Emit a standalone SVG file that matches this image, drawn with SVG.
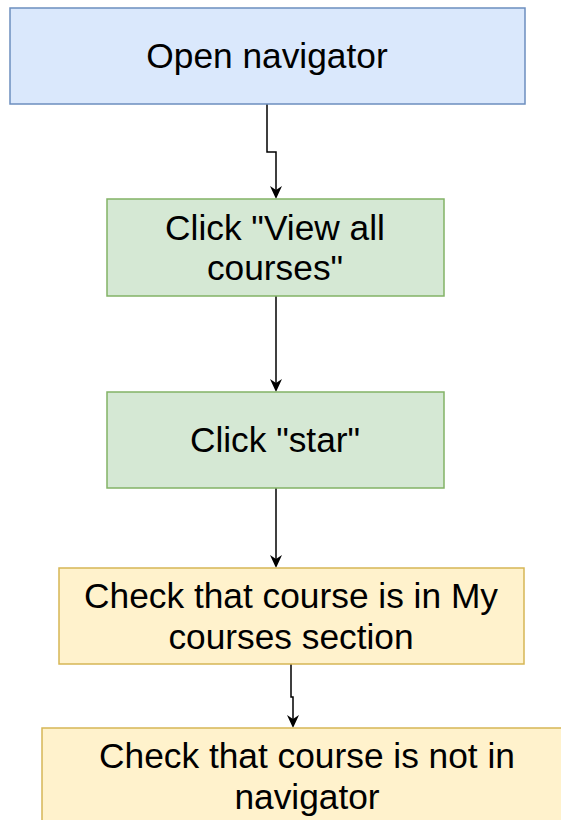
<svg xmlns="http://www.w3.org/2000/svg" width="561" height="820" viewBox="0 0 561 820">
<style>
.t{font-family:"Liberation Sans",Arial,sans-serif;font-size:35.3px;fill:#000;text-anchor:middle}
.blue{fill:#dae8fc;stroke:#6c8ebf;stroke-width:1.5}
.green{fill:#d5e8d4;stroke:#82b366;stroke-width:1.5}
.yellow{fill:#fff2cc;stroke:#d6b656;stroke-width:1.5}
.c{fill:none;stroke:#000;stroke-width:1.5}
</style>
<rect width="561" height="820" fill="#fff"/>
<g id="connectors">
<path class="c" d="M267,104 V152 H276 V196"/>
<path class="c" d="M276,296 V389"/>
<path class="c" d="M276,488 V566"/>
<path class="c" d="M291,664 V697 H293 V726"/>
<path d="M270,186 L276,199 L282,186 L276,190 Z"/>
<path d="M270,379 L276,392 L282,379 L276,383 Z"/>
<path d="M270,555 L276,568 L282,555 L276,559 Z"/>
<path d="M287,715 L293,728 L299,715 L293,719 Z"/>
</g>
<g id="n1"><rect class="blue" x="10" y="8" width="515" height="96"/><text class="t" x="267" y="68">Open navigator</text></g>
<g id="n2"><rect class="green" x="107" y="199" width="337" height="97"/><text class="t" x="275" y="240">Click "View all</text><text class="t" x="275" y="280">courses"</text></g>
<g id="n3"><rect class="green" x="107" y="392" width="337" height="96"/><text class="t" x="275" y="452">Click "star"</text></g>
<g id="n4"><rect class="yellow" x="59" y="568" width="465" height="96"/><text class="t" x="291" y="608">Check that course is in My</text><text class="t" x="291" y="649">courses section</text></g>
<g id="n5"><rect class="yellow" x="42" y="728" width="530" height="100"/><text class="t" x="307" y="768">Check that course is not in</text><text class="t" x="307" y="809">navigator</text></g>
</svg>
